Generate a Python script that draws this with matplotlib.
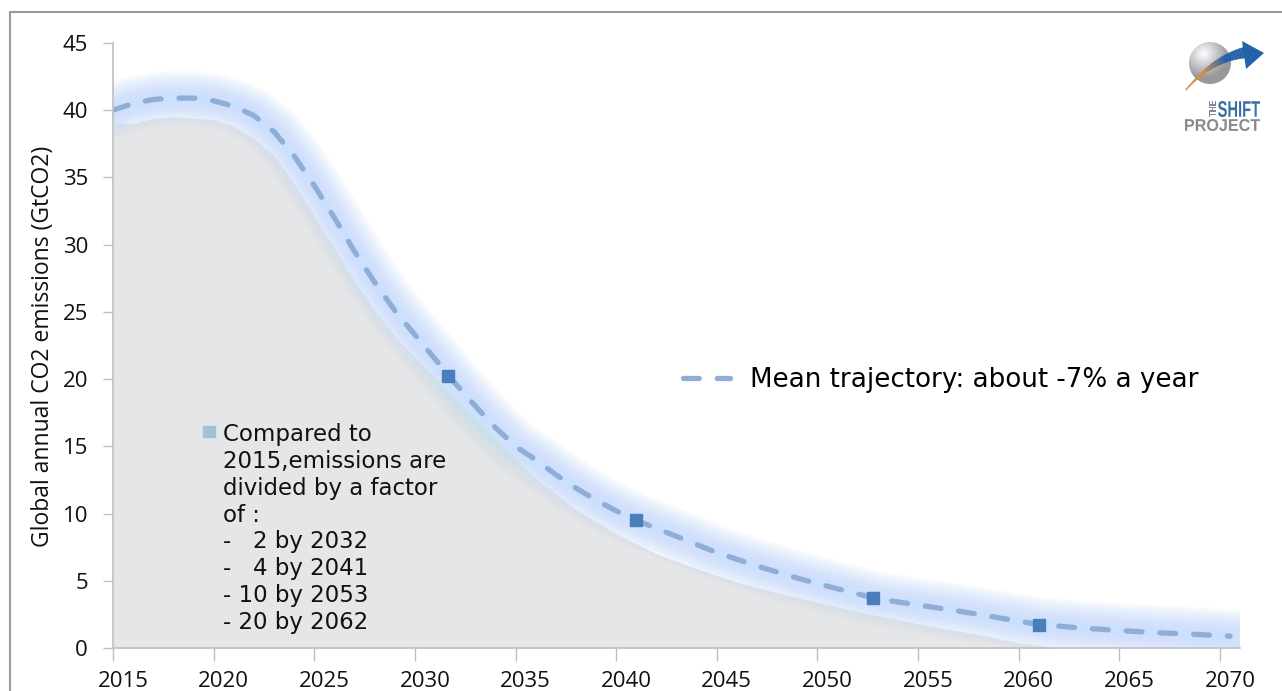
import numpy as np
import matplotlib.pyplot as plt
import matplotlib.transforms as mtransforms
from matplotlib.patches import Rectangle, Circle, Polygon, PathPatch
from matplotlib.textpath import TextPath
from matplotlib.font_manager import FontProperties

# 数据：平均减排轨迹 (GtCO2)
mean_years = [2015, 2016, 2017, 2018, 2019, 2020, 2021, 2022, 2023, 2024, 2025,
              2026, 2027, 2028, 2029, 2030, 2031, 2032, 2033, 2034, 2035, 2036,
              2037, 2038, 2039, 2040, 2041, 2043, 2045, 2047, 2049, 2051, 2053,
              2055, 2057, 2059, 2061, 2063, 2065, 2067, 2069, 2070.5]
mean_values = [40.0, 40.5, 40.8, 40.9, 40.9, 40.7, 40.3, 39.6, 38.4, 36.6, 34.4,
               32.0, 29.5, 27.2, 25.1, 23.3, 21.5, 19.7, 18.0, 16.4, 15.0, 14.0,
               12.9, 11.9, 11.0, 10.2, 9.5, 8.3, 7.1, 6.1, 5.2, 4.4, 3.65,
               3.2, 2.75, 2.25, 1.75, 1.5, 1.3, 1.13, 1.0, 0.88]

# 灰色区域
area_years = [2015, 2016, 2017, 2018, 2020, 2021, 2022, 2023, 2024, 2025, 2026,
              2027, 2028, 2029, 2030, 2032, 2034, 2036, 2038, 2040, 2042, 2044,
              2046, 2048, 2050, 2052, 2054, 2056, 2058, 2060, 2062, 2071]
area_values = [39.1, 39.0, 39.4, 39.5, 39.3, 38.8, 37.9, 36.6, 34.5, 32.1, 29.7,
               27.3, 25.1, 23.2, 21.6, 18.6, 15.6, 12.6, 10.3, 8.5, 7.0, 5.9,
               4.9, 4.1, 3.4, 2.7, 2.1, 1.5, 1.0, 0.4, 0.0, 0.0]

# 减半节点
marker_years = [2031.65, 2041.0, 2052.75, 2061.0]
marker_values = [20.2, 9.5, 3.7, 1.7]

x_ticks = list(range(2015, 2071, 5))
y_ticks = list(range(0, 46, 5))

note_text = ("Compared to\n2015,emissions are\ndivided by a factor\nof :\n"
             "-   2 by 2032\n-   4 by 2041\n- 10 by 2053\n- 20 by 2062")
legend_label = "Mean trajectory: about -7% a year"
y_label = "Global annual CO2 emissions (GtCO2)"

W, H = 1282, 691


def px(x, y):
    return x / W, 1 - y / H


fig = plt.figure(figsize=(W / 100, H / 100), dpi=100)
fig.patch.set_facecolor('white')

# 外框
fig.patches.append(Rectangle(px(10, 700), (W + 10) / W, (700 - 12) / H, fill=False,
                             edgecolor='#9a9a9a', lw=1.5, transform=fig.transFigure))

ax = fig.add_axes([113 / W, 43 / H, (1240 - 113) / W, (648 - 43) / H])
ax.set_xlim(2015, 2071)
ax.set_ylim(0, 45)

ax.fill_between(area_years, area_values, 0, color='#e5e6e7', lw=0, zorder=1)

# 光晕（多层半透明粗线叠加）
for lw in np.linspace(40, 3, 40):
    ax.plot(mean_years, mean_values, color=(0.79, 0.88, 0.99), alpha=0.035,
            lw=lw, solid_capstyle='projecting', solid_joinstyle='round', zorder=2)

ax.plot(mean_years, mean_values, color='#8fadd6', lw=3.8, dashes=(3.0, 3.4),
        dash_capstyle='round', zorder=3, label=legend_label)
ax.plot(marker_years, marker_values, 's', color='#4a7ebb', ms=8.6, zorder=4)

for side in ['top', 'right']:
    ax.spines[side].set_visible(False)
for side in ['left', 'bottom']:
    ax.spines[side].set_color('#bfbfbf')
    ax.spines[side].set_linewidth(1.2)
    ax.spines[side].set_zorder(5)

ax.set_xticks(x_ticks)
ax.set_yticks(y_ticks)
ax.tick_params(axis='x', length=9, width=1, color='#bfbfbf', pad=7.5,
               labelsize=16, labelcolor='#111111')
ax.tick_params(axis='y', length=7, width=1, color='#bfbfbf', pad=11,
               labelsize=16, labelcolor='#111111')
for lab in ax.get_xticklabels() + ax.get_yticklabels():
    lab.set_family(['Open Sans', 'DejaVu Sans'])
offset = mtransforms.ScaledTranslation(10 / 100, 0, fig.dpi_scale_trans)
for lab in ax.get_xticklabels():
    lab.set_transform(lab.get_transform() + offset)

fig.text(*px(43, 346), y_label, rotation=90, ha='center', va='center',
         fontsize=16.5, family=['Open Sans', 'DejaVu Sans'], color='#111111')

# 图例
ax.legend(loc='center left', bbox_to_anchor=px(683, 380), bbox_transform=fig.transFigure,
          frameon=False, handlelength=1.8, handletextpad=0.76,
          borderpad=0, borderaxespad=0, prop={'family': 'DejaVu Sans', 'size': 18.8})

# 说明文字
fig.patches.append(Rectangle(px(203, 437), 12 / W, 11 / H, color='#9dc3d6',
                             transform=fig.transFigure, zorder=10))
fig.text(*px(223, 423), note_text, ha='left', va='top', fontsize=16.5,
         linespacing=1.215, family='DejaVu Sans', color='#111111')

# 标志
lg = fig.add_axes([1180 / W, 1 - 140 / H, 85 / W, 100 / H])
lg.set_xlim(0, 85)
lg.set_ylim(0, 100)
lg.axis('off')

n = 200
gx, gy = np.meshgrid(np.linspace(-1, 1, n), np.linspace(-1, 1, n))
d = np.sqrt((gx + 0.3) ** 2 + (gy - 0.45) ** 2)
shade = np.clip(1.0 - 0.35 * d, 0.6, 1.0)
img = np.dstack([shade, shade, np.clip(shade * 1.01, 0, 1), np.ones_like(shade)])
cx, cy, r = 30, 77, 21
im = lg.imshow(img, extent=[cx - r, cx + r, cy - r, cy + r], origin='lower', zorder=1)
im.set_clip_path(Circle((cx, cy), r, transform=lg.transData))

t = np.linspace(0, 1, 50)
p0, p1, p2 = np.array([6, 50]), np.array([34, 82]), np.array([68, 86])
curve = ((1 - t) ** 2)[:, None] * p0 + (2 * (1 - t) * t)[:, None] * p1 + (t ** 2)[:, None] * p2
tang = np.gradient(curve, axis=0)
norm = np.stack([-tang[:, 1], tang[:, 0]], axis=1)
norm /= np.linalg.norm(norm, axis=1)[:, None]
thick = 0.6 + 7.0 * t ** 1.3
c_orange = np.array([0.82, 0.56, 0.30])
c_blue = np.array([0.14, 0.38, 0.66])
for i in range(len(t) - 1):
    poly = [curve[i] + norm[i] * thick[i], curve[i + 1] + norm[i + 1] * thick[i + 1],
            curve[i + 1] - norm[i + 1] * thick[i + 1] * 0.5, curve[i] - norm[i] * thick[i] * 0.5]
    w = np.clip((t[i] - 0.3) / 0.35, 0, 1)
    col = c_orange * (1 - w) + c_blue * w
    lg.add_patch(Polygon(poly, closed=True, color=col, lw=0.3, zorder=2))
lg.add_patch(Polygon([[62, 99], [84, 87], [66, 71]], closed=True, color=c_blue, lw=0, zorder=3))


def logo_text(s, x0, y0, w, h, color, weight='bold', rot=False):
    tp = TextPath((0, 0), s, size=10, prop=FontProperties(family='Liberation Sans', weight=weight))
    bb = tp.get_extents()
    if rot:
        tr = (mtransforms.Affine2D().translate(-bb.x0, -bb.y0)
              .scale(h / bb.width, w / bb.height).rotate_deg(90).translate(x0 + w, y0))
    else:
        tr = (mtransforms.Affine2D().translate(-bb.x0, -bb.y0)
              .scale(w / bb.width, h / bb.height).translate(x0, y0))
    lg.add_patch(PathPatch(tr.transform_path(tp), color=color, lw=0, zorder=4))


logo_text("SHIFT", 38, 23, 42, 16, '#3a6ea5')
logo_text("THE", 29, 23, 7, 16, '#7f8a96', rot=True)
logo_text("PROJECT", 5, 9, 75, 12, '#8a8a8a')

fig.savefig('out.png', dpi=100)
